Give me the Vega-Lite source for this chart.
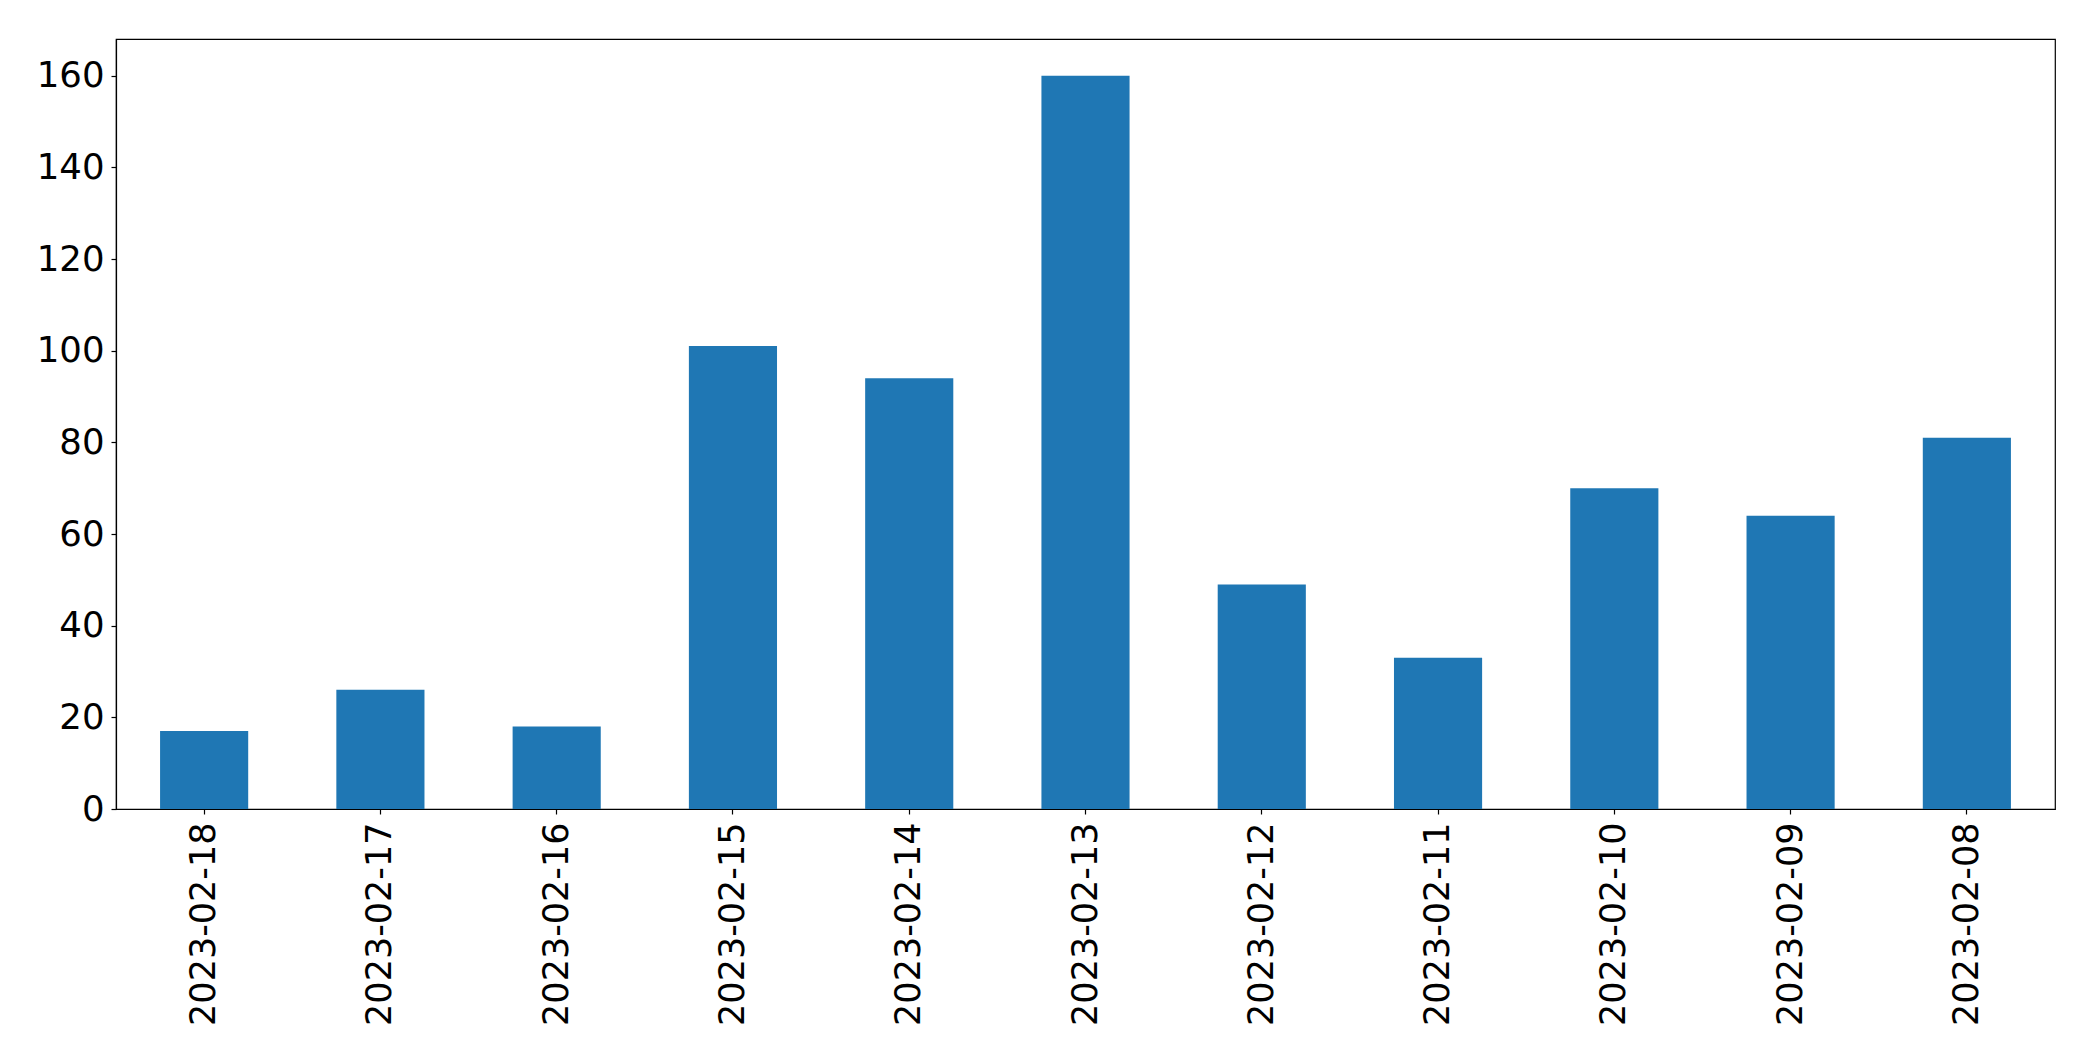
{
  "$schema": "https://vega.github.io/schema/vega-lite/v6.json",
  "width": 1939,
  "height": 770,
  "autosize": "none",
  "padding": {"left": 116, "top": 39, "right": 38, "bottom": 252},
  "background": "white",
  "config": {
    "view": {"stroke": "black", "strokeWidth": 1.2},
    "font": "DejaVu Sans",
    "axis": {
      "grid": false,
      "domainColor": "black",
      "domainWidth": 1.2,
      "tickColor": "black",
      "tickWidth": 1.2,
      "tickSize": 5,
      "labelColor": "black",
      "labelFont": "DejaVu Sans",
      "labelFontSize": 35,
      "labelLimit": 500,
      "title": null
    }
  },
  "data": {
    "values": [
      {"date": "2023-02-18", "count": 17},
      {"date": "2023-02-17", "count": 26},
      {"date": "2023-02-16", "count": 18},
      {"date": "2023-02-15", "count": 101},
      {"date": "2023-02-14", "count": 94},
      {"date": "2023-02-13", "count": 160},
      {"date": "2023-02-12", "count": 49},
      {"date": "2023-02-11", "count": 33},
      {"date": "2023-02-10", "count": 70},
      {"date": "2023-02-09", "count": 64},
      {"date": "2023-02-08", "count": 81}
    ]
  },
  "mark": {"type": "bar", "color": "#1f77b4"},
  "encoding": {
    "x": {
      "field": "date",
      "type": "nominal",
      "sort": null,
      "scale": {"paddingInner": 0.5, "paddingOuter": 0.25},
      "axis": {"labelAngle": -90, "labelPadding": 8}
    },
    "y": {
      "field": "count",
      "type": "quantitative",
      "scale": {"domain": [0, 168], "nice": false, "zero": true},
      "axis": {"values": [0, 20, 40, 60, 80, 100, 120, 140, 160], "labelPadding": 7, "labelFontSize": 35.5}
    }
  }
}
